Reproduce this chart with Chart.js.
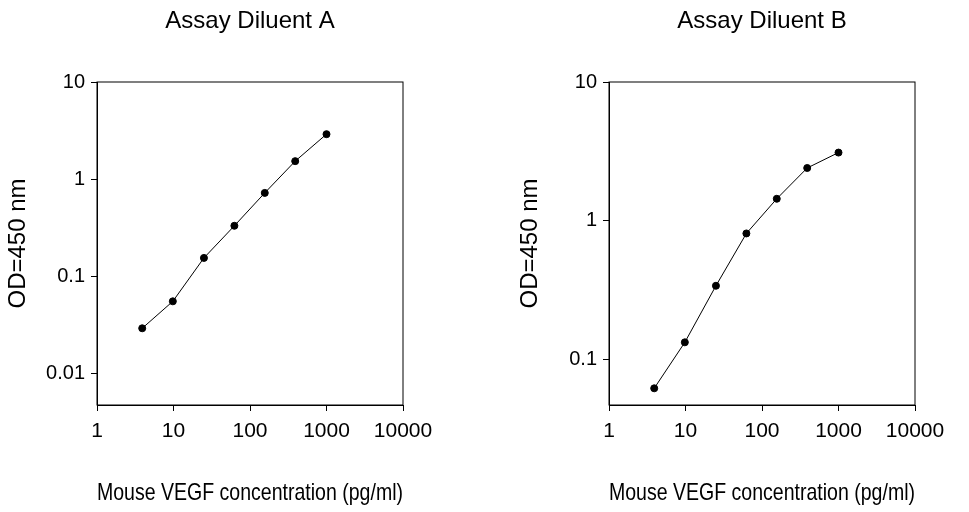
<!DOCTYPE html>
<html>
<head>
<script src="https://cdn.jsdelivr.net/npm/chart.js@4"></script>
<style>
body{margin:0;background:#fff;width:969px;height:512px;position:relative;overflow:hidden}
.box{position:absolute;top:0;height:512px}
</style>
</head>
<body>
<div class="box" style="left:0;width:484px"><canvas id="cA"></canvas></div>
<div class="box" style="left:512px;width:457px"><canvas id="cB"></canvas></div>
<script>
var conc = [3.9, 9.8, 25, 62.5, 156, 390, 1000];
var odA = [0.029, 0.055, 0.154, 0.33, 0.72, 1.53, 2.9];
var odB = [0.062, 0.133, 0.34, 0.81, 1.44, 2.4, 3.1];
var xTicks = [1, 10, 100, 1000, 10000];
var yTicksA = [0.01, 0.1, 1, 10];
var yTicksB = [0.1, 1, 10];

var FONT = "'Liberation Sans', Arial, sans-serif";

var frame = {
    id: 'frame',
    afterDraw: function(chart){
        var a = chart.chartArea, ctx = chart.ctx;
        ctx.save();
        ctx.strokeStyle = '#000';
        ctx.lineWidth = 1;
        ctx.strokeRect(a.left, a.top, a.right - a.left, a.bottom - a.top);
        ctx.fillStyle = '#000';
        ctx.font = '24px ' + FONT;
        ctx.textAlign = 'center';
        ctx.textBaseline = 'middle';
        ctx.fillText(chart.options.plugins.frame.text, (a.left + a.right) / 2, 21);
        ctx.restore();
    }
};

function makeChart(id, ys, yMin, yTicks, title, padRight){
    new Chart(document.getElementById(id), {
        type: 'line',
        data: {
            datasets: [{
                data: conc.map(function(x, i){ return {x: x, y: ys[i]}; }),
                borderColor: '#000',
                borderWidth: 1,
                pointRadius: 3.5,
                pointBackgroundColor: '#000',
                pointBorderColor: '#000',
                tension: 0
            }]
        },
        options: {
            responsive: true,
            maintainAspectRatio: false,
            animation: false,
            layout: {padding: {top: 82, right: padRight, left: 0, bottom: 0}},
            plugins: {legend: {display: false}, tooltip: {enabled: false}, frame: {text: title}},
            scales: {
                x: {
                    type: 'logarithmic', min: 1, max: 10000,
                    afterBuildTicks: function(s){ s.ticks = xTicks.map(function(v){ return {value: v}; }); },
                    afterFit: function(s){ s.height = 107; },
                    ticks: {color: '#000', font: {size: 21, family: FONT}, padding: 8, maxRotation: 0,
                        callback: function(v){ return String(v); }},
                    grid: {drawOnChartArea: false, drawTicks: true, tickLength: 6, color: '#000'},
                    border: {display: true, color: '#000'},
                    title: {display: true, text: 'Mouse VEGF concentration (pg/ml)', color: '#000',
                        font: {size: 24, family: FONT}, padding: {top: 0, bottom: 4}}
                },
                y: {
                    type: 'logarithmic', min: yMin, max: 10,
                    afterBuildTicks: function(s){ s.ticks = yTicks.map(function(v){ return {value: v}; }); },
                    afterFit: function(s){ s.width = 97; },
                    ticks: {color: '#000', font: {size: 20, family: FONT}, padding: 6,
                        callback: function(v){ return String(v); }},
                    grid: {drawOnChartArea: false, drawTicks: true, tickLength: 6, color: '#000'},
                    border: {display: true, color: '#000'},
                    title: {display: true, text: 'OD=450 nm', color: '#000',
                        font: {size: 24, family: FONT}, padding: {top: 4, bottom: 0}}
                }
            }
        },
        plugins: [frame]
    });
}

makeChart('cA', odA, 0.0047, yTicksA, 'Assay Diluent A', 81);
makeChart('cB', odB, 0.047, yTicksB, 'Assay Diluent B', 54);
</script>
</body>
</html>
